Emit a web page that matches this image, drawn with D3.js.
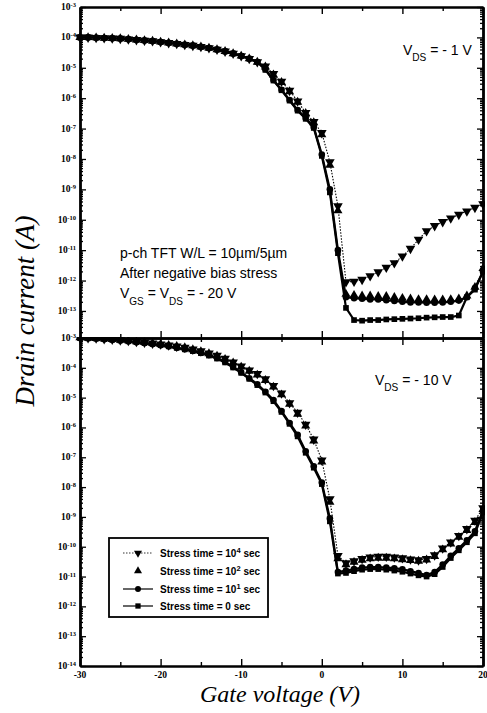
<!DOCTYPE html>
<html>
<head>
<meta charset="utf-8">
<script src="https://cdn.jsdelivr.net/npm/d3@7"></script>
<style>
	body { margin: 0; background: #fff }
	svg { display: block }
</style>
</head>
<body>
<script>
// gate voltage (V), one point per volt
const gateVoltage = [-30, -29, -28, -27, -26, -25, -24, -23, -22, -21, -20, -19, -18, -17, -16, -15, -14, -13, -12, -11,
	-10, -9, -8, -7, -6, -5, -4, -3, -2, -1, 0, 1, 2, 3, 4, 5, 6, 7, 8, 9, 10, 11, 12, 13, 14, 15, 16, 17, 18, 19, 20]

// drain current as log10(A), V_DS = -1 V
const top1e4 = [-4.00, -4.00, -4.01, -4.02, -4.03, -4.04, -4.06, -4.08, -4.10, -4.12, -4.15, -4.18, -4.21, -4.24, -4.27, -4.31, -4.35, -4.40, -4.46, -4.53, -4.61, -4.70, -4.81,
	-4.95, -5.20, -5.45, -5.75, -6.10, -6.48, -6.78, -7.14, -8.10, -9.55, -12.05, -12.03, -11.97, -11.85, -11.72, -11.57, -11.42, -11.20, -10.95, -10.65, -10.37, -10.20, -10.07, -9.95, -9.83, -9.72, -9.60, -9.48]
const top1e2 = [-4.00, -4.00, -4.01, -4.02, -4.03, -4.04, -4.06, -4.08, -4.10, -4.12, -4.15, -4.18, -4.21, -4.24, -4.27, -4.31, -4.35, -4.40, -4.46, -4.53, -4.61, -4.70, -4.81,
	-4.97, -5.23, -5.48, -5.78, -6.13, -6.50, -6.80, -7.20, -8.20, -9.70, -12.45, -12.48, -12.50, -12.50, -12.52, -12.52, -12.55, -12.58, -12.60, -12.62, -12.62, -12.63, -12.63, -12.62, -12.60, -12.50, -12.22, -11.60]
const top1e1 = [-4.00, -4.00, -4.01, -4.02, -4.03, -4.04, -4.06, -4.08, -4.10, -4.12, -4.15, -4.18, -4.21, -4.24, -4.27, -4.31, -4.35, -4.40, -4.46, -4.53, -4.61, -4.70, -4.81,
	-5.05, -5.40, -5.72, -6.06, -6.39, -6.65, -6.95, -7.85, -9.00, -11.00, -12.55, -12.58, -12.60, -12.62, -12.62, -12.65, -12.67, -12.70, -12.72, -12.72, -12.73, -12.73, -12.72, -12.70, -12.66, -12.55, -12.25, -11.70]
const top0 = [-4.00, -4.00, -4.01, -4.02, -4.03, -4.04, -4.06, -4.08, -4.10, -4.12, -4.15, -4.18, -4.21, -4.24, -4.27, -4.31, -4.35, -4.40, -4.46, -4.53, -4.61, -4.70, -4.81,
	-5.07, -5.42, -5.74, -6.08, -6.41, -6.68, -6.98, -7.90, -9.10, -11.10, -12.90, -13.30, -13.32, -13.30, -13.30, -13.28, -13.27, -13.26, -13.25, -13.24, -13.22, -13.21, -13.20, -13.20, -13.15, -12.55, -12.30, -11.70]

// drain current as log10(A), V_DS = -10 V
const bot1e4 = [-2.99, -3.00, -3.01, -3.03, -3.05, -3.07, -3.09, -3.12, -3.15, -3.18, -3.21, -3.24, -3.28, -3.32,
	-3.38, -3.44, -3.51, -3.59, -3.69, -3.81, -3.95, -4.08, -4.20, -4.38, -4.60, -4.85, -5.18, -5.50, -5.90, -6.40,
	-7.10, -8.40, -10.30, -10.55, -10.48, -10.40, -10.35, -10.33, -10.33, -10.35, -10.38, -10.42, -10.45, -10.40, -10.28, -10.05, -9.85, -9.63, -9.40, -9.12, -8.70]
const bot1e2 = [-2.99, -3.00, -3.01, -3.03, -3.05, -3.07, -3.09, -3.12, -3.15, -3.18, -3.21, -3.24, -3.28, -3.32,
	-3.39, -3.45, -3.52, -3.60, -3.71, -3.83, -3.97, -4.11, -4.24, -4.42, -4.64, -4.90, -5.22, -5.55, -5.95, -6.45,
	-7.15, -8.50, -10.40, -10.60, -10.52, -10.45, -10.40, -10.38, -10.38, -10.40, -10.43, -10.46, -10.48, -10.44, -10.32, -10.10, -9.90, -9.68, -9.45, -9.18, -8.75]
const bot1e1 = [-3.00, -3.01, -3.02, -3.04, -3.06, -3.08, -3.11, -3.14, -3.17, -3.20, -3.24, -3.28, -3.33, -3.38,
	-3.43, -3.49, -3.57, -3.67, -3.80, -3.97, -4.15, -4.35, -4.55, -4.80, -5.08, -5.45, -5.85, -6.25, -6.80, -7.30,
	-7.85, -9.05, -10.85, -10.80, -10.75, -10.70, -10.68, -10.68, -10.70, -10.72, -10.76, -10.82, -10.88, -10.95, -10.85, -10.60, -10.30, -10.05, -9.78, -9.48, -8.80]
const bot0 = [-3.00, -3.01, -3.02, -3.04, -3.06, -3.08, -3.11, -3.14, -3.17, -3.20, -3.24, -3.28, -3.33, -3.38,
	-3.44, -3.51, -3.59, -3.69, -3.82, -3.99, -4.17, -4.37, -4.58, -4.83, -5.12, -5.48, -5.88, -6.30, -6.85, -7.35,
	-7.90, -9.15, -10.90, -10.88, -10.82, -10.77, -10.75, -10.75, -10.77, -10.80, -10.84, -10.90, -10.96, -11.00, -10.92, -10.68, -10.38, -10.12, -9.85, -9.55, -8.85]

// legend: stress time exponent text, series order 10^4, 10^2, 10^1, 0
const stressTimes = ['4', '2', '1', null]
const topSeries = [top1e4, top1e2, top1e1, top0]
const botSeries = [bot1e4, bot1e2, bot1e1, bot0]

const topDecades = [-3, -4, -5, -6, -7, -8, -9, -10, -11, -12, -13]
const botDecades = [-3, -4, -5, -6, -7, -8, -9, -10, -11, -12, -13, -14]
const xMajor = [-30, -20, -10, 0, 10, 20]
const xMinor = [-25, -15, -5, 5, 15]

const width = 487
const height = 713
const left = 80
const right = 483

const svg = d3.select('body').append('svg').attr('width', width).attr('height', height)

const x = d3.scaleLinear().domain([-30, 20]).range([left, right])
const yTop = d3.scaleLog().domain([1e-3, Math.pow(10, -13.89)]).range([7, 338])
const yBot = d3.scaleLog().domain([1e-3, 1e-14]).range([338, 666])

// marker shapes per series
const shapes = [
	{ type: d3.symbolTriangle, rot: 180, line: '1.5,1.5', size: 40 },
	{ type: d3.symbolTriangle, rot: 0, line: null, size: 36 },
	{ type: d3.symbolCircle, rot: 0, line: '', size: 34 },
	{ type: d3.symbolSquare, rot: 0, line: '', size: 32 }
]

function minorTicks(decades) {
	let out = []
	decades.forEach(e => {
		for (let m = 2; m < 10; m++) out.push(m * Math.pow(10, e - 1))
	})
	return out
}

function drawYAxes(y, decades) {
	let majors = decades.map(e => Math.pow(10, e))
	let minors = minorTicks(decades).filter(v => v <= 1e-3 && v >= y.domain()[1])
	let g = svg.append('g')
	// left
	g.append('g').attr('transform', 'translate(' + left + ',0)')
		.call(d3.axisRight(y).tickValues(minors).tickSize(3).tickSizeOuter(0).tickFormat(''))
	g.append('g').attr('transform', 'translate(' + left + ',0)')
		.call(d3.axisRight(y).tickValues(majors).tickSize(6).tickSizeOuter(0).tickFormat(''))
	// right
	g.append('g').attr('transform', 'translate(' + right + ',0)')
		.call(d3.axisLeft(y).tickValues(minors).tickSize(3).tickSizeOuter(0).tickFormat(''))
	g.append('g').attr('transform', 'translate(' + right + ',0)')
		.call(d3.axisLeft(y).tickValues(majors).tickSize(6).tickSizeOuter(0).tickFormat(''))
	g.selectAll('path.domain').attr('stroke-width', 2.4)
	g.selectAll('.tick line').attr('stroke-width', 1.3)

	let labels = g.selectAll('text.ylab').data(decades).join('text')
		.attr('class', 'ylab')
		.attr('x', left - 4)
		.attr('y', e => y(Math.pow(10, e)) + 3)
		.attr('text-anchor', 'end')
		.attr('font-family', 'Liberation Serif, serif')
		.attr('font-size', 9.5)
		.attr('font-weight', 'bold')
	labels.append('tspan').text('10')
	labels.append('tspan').attr('dy', -3).attr('font-size', 6.5).text(e => e)
}

function drawXAxis(yPos, dir) {
	let axis = dir === 'up' ? d3.axisTop : d3.axisBottom
	let g = svg.append('g').attr('transform', 'translate(0,' + yPos + ')')
	g.append('g').call(axis(x).tickValues(xMinor).tickSize(4).tickSizeOuter(0).tickFormat(''))
	g.append('g').call(axis(x).tickValues(xMajor).tickSize(7).tickSizeOuter(0).tickFormat(''))
	g.selectAll('path.domain').attr('stroke-width', 2.2)
	g.selectAll('.tick line').attr('stroke-width', 1.4)
	return g
}

function drawSeries(y, series, clipId, y0, y1) {
	svg.append('clipPath').attr('id', clipId)
		.append('rect').attr('x', left - 6).attr('y', y0 - 1).attr('width', right - left + 8).attr('height', y1 - y0 + 2)
	let g = svg.append('g').attr('clip-path', 'url(#' + clipId + ')')
	series.forEach((vals, i) => {
		let pts = gateVoltage.map((v, j) => [x(v), y(Math.pow(10, vals[j]))])
		let s = shapes[i]
		if (s.line !== null) {
			g.append('path')
				.attr('d', d3.line()(pts))
				.attr('fill', 'none')
				.attr('stroke', '#000')
				.attr('stroke-width', s.line ? 1.1 : 2.2)
				.attr('stroke-dasharray', s.line || null)
		}
		g.selectAll(null).data(pts).join('path')
			.attr('d', d3.symbol().type(s.type).size(s.size))
			.attr('transform', p => 'translate(' + p[0] + ',' + p[1] + ') rotate(' + s.rot + ')')
			.attr('fill', '#000')
	})
}

drawSeries(yTop, topSeries, 'clipTop', 7, 338)
drawSeries(yBot, botSeries, 'clipBot', 338, 666)

drawYAxes(yTop, topDecades)
drawYAxes(yBot, botDecades)
drawXAxis(7, 'down')
drawXAxis(338, 'up')
drawXAxis(338, 'down')
drawXAxis(666, 'up')

// x tick labels
svg.append('g').selectAll('text').data(xMajor).join('text')
	.attr('x', d => x(d))
	.attr('y', 678)
	.attr('text-anchor', 'middle')
	.attr('font-family', 'Liberation Serif, serif')
	.attr('font-size', 9.5)
	.attr('font-weight', 'bold')
	.text(d => d)

// axis titles
svg.append('text')
	.attr('x', 280)
	.attr('y', 702)
	.attr('text-anchor', 'middle')
	.attr('font-family', 'Liberation Serif, serif')
	.attr('font-style', 'italic')
	.attr('font-size', 24)
	.text('Gate voltage (V)')

svg.append('text')
	.attr('transform', 'translate(34,311) rotate(-90)')
	.attr('text-anchor', 'middle')
	.attr('font-family', 'Liberation Serif, serif')
	.attr('font-style', 'italic')
	.attr('font-size', 27)
	.text('Drain current (A)')

// annotations
const sans = 'Liberation Sans, Arial, sans-serif'
function vLabel(px, py, sub, rest, size) {
	let t = svg.append('text').attr('x', px).attr('y', py)
		.attr('font-family', sans).attr('font-size', size)
	t.append('tspan').text('V')
	t.append('tspan').attr('dy', 6).attr('font-size', size * 0.72).text(sub)
	t.append('tspan').attr('dy', -6).text(' = - ' + rest)
	return t
}

vLabel(403, 55, 'DS', '1 V', 14)
vLabel(375, 385, 'DS', '10 V', 14)

svg.append('text').attr('x', 120).attr('y', 258)
	.attr('font-family', sans).attr('font-size', 14)
	.text('p-ch TFT W/L = 10\u00b5m/5\u00b5m')
svg.append('text').attr('x', 120).attr('y', 278)
	.attr('font-family', sans).attr('font-size', 14)
	.text('After negative bias stress')
let vgs = svg.append('text').attr('x', 120).attr('y', 298)
	.attr('font-family', sans).attr('font-size', 14)
vgs.append('tspan').text('V')
vgs.append('tspan').attr('dy', 7).attr('font-size', 10).text('GS')
vgs.append('tspan').attr('dy', -7).text(' =  V')
vgs.append('tspan').attr('dy', 7).attr('font-size', 10).text('DS')
vgs.append('tspan').attr('dy', -7).text(' = - 20 V')

// legend
const legend = svg.append('g')
legend.append('rect')
	.attr('x', 109).attr('y', 538).attr('width', 159).attr('height', 79)
	.attr('fill', '#fff').attr('stroke', '#000').attr('stroke-width', 1.8)
const rowY = [553, 571, 589, 606]
stressTimes.forEach((st, i) => {
	let s = shapes[i]
	let ly = rowY[i]
	if (s.line !== null) {
		legend.append('line').attr('x1', 123).attr('x2', 153).attr('y1', ly).attr('y2', ly)
			.attr('stroke', '#000').attr('stroke-width', s.line ? 0.8 : 1.2)
			.attr('stroke-dasharray', s.line || null)
	}
	legend.append('path')
		.attr('d', d3.symbol().type(s.type).size(28))
		.attr('transform', 'translate(138,' + ly + ') rotate(' + s.rot + ')')
	let t = legend.append('text').attr('x', 160).attr('y', ly + 3.5)
		.attr('font-family', sans).attr('font-size', 10).attr('font-weight', 'bold')
	if (st) {
		t.append('tspan').text('Stress time = 10')
		t.append('tspan').attr('dy', -3.5).attr('font-size', 7.5).text(st)
		t.append('tspan').attr('dy', 3.5).text(' sec')
	} else {
		t.append('tspan').text('Stress time = 0 sec')
	}
})
</script>
</body>
</html>
